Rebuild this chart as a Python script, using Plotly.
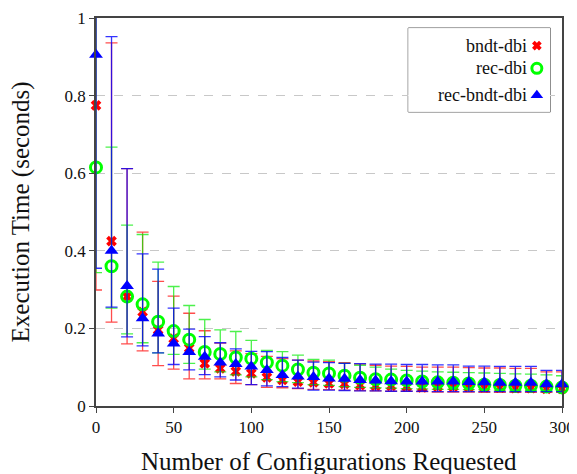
import plotly.graph_objects as go

x_vals = list(range(0, 301, 10))

bndt_mean = [0.775, 0.425, 0.282, 0.243, 0.196, 0.174, 0.149, 0.110, 0.097, 0.089,
             0.084, 0.074, 0.067, 0.063, 0.061, 0.058, 0.057, 0.054, 0.052, 0.052,
             0.050, 0.048, 0.050, 0.050, 0.049, 0.048, 0.047, 0.046, 0.046, 0.044, 0.044]
bndt_upper = [1.25, 0.936, 0.612, 0.448, 0.321, 0.283, 0.239, 0.194, 0.162, 0.142,
              0.135, 0.128, 0.122, 0.118, 0.116, 0.114, 0.112, 0.108, 0.105, 0.103,
              0.102, 0.100, 0.100, 0.100, 0.099, 0.098, 0.098, 0.097, 0.097, 0.088, 0.088]
bndt_lower = [0.299, 0.216, 0.160, 0.142, 0.104, 0.095, 0.070, 0.070, 0.070, 0.058,
              0.055, 0.048, 0.047, 0.045, 0.043, 0.042, 0.041, 0.040, 0.039, 0.038,
              0.038, 0.037, 0.036, 0.036, 0.036, 0.035, 0.035, 0.035, 0.035, 0.035, 0.035]

rec_mean = [0.615, 0.360, 0.282, 0.262, 0.217, 0.193, 0.171, 0.139, 0.134, 0.125,
            0.122, 0.112, 0.104, 0.094, 0.086, 0.084, 0.078, 0.073, 0.069, 0.068,
            0.066, 0.063, 0.061, 0.060, 0.058, 0.055, 0.054, 0.052, 0.052, 0.050, 0.048]
rec_upper = [1.05, 0.667, 0.466, 0.442, 0.371, 0.308, 0.259, 0.223, 0.196, 0.192,
             0.169, 0.143, 0.140, 0.131, 0.120, 0.118, 0.110, 0.105, 0.100, 0.095,
             0.092, 0.090, 0.088, 0.087, 0.086, 0.085, 0.084, 0.083, 0.082, 0.080, 0.078]
rec_lower = [0.344, 0.252, 0.186, 0.163, 0.137, 0.133, 0.110, 0.095, 0.088, 0.080,
             0.075, 0.068, 0.063, 0.060, 0.055, 0.053, 0.050, 0.048, 0.047, 0.046,
             0.045, 0.044, 0.043, 0.043, 0.042, 0.042, 0.041, 0.041, 0.040, 0.040, 0.040]

recb_mean = [0.905, 0.400, 0.309, 0.226, 0.187, 0.161, 0.139, 0.127, 0.112, 0.108,
             0.102, 0.093, 0.080, 0.076, 0.075, 0.071, 0.070, 0.067, 0.066, 0.064,
             0.063, 0.063, 0.063, 0.063, 0.062, 0.061, 0.060, 0.060, 0.060, 0.056, 0.056]
recb_upper = [1.30, 0.952, 0.612, 0.392, 0.353, 0.252, 0.198, 0.179, 0.163, 0.147,
              0.141, 0.140, 0.125, 0.118, 0.113, 0.112, 0.110, 0.109, 0.108, 0.108,
              0.107, 0.107, 0.106, 0.106, 0.103, 0.103, 0.102, 0.102, 0.102, 0.092, 0.092]
recb_lower = [0.355, 0.255, 0.178, 0.155, 0.137, 0.107, 0.093, 0.081, 0.075, 0.067,
              0.055, 0.052, 0.050, 0.046, 0.041, 0.041, 0.040, 0.039, 0.039, 0.038,
              0.038, 0.038, 0.037, 0.037, 0.037, 0.037, 0.037, 0.037, 0.037, 0.037, 0.037]

series_names = ["bndt-dbi", "rec-dbi", "rec-bndt-dbi"]
x_ticks = [0, 50, 100, 150, 200, 250, 300]
y_ticks = [0, 0.2, 0.4, 0.6, 0.8, 1]
x_title = "Number of Configurations Requested"
y_title = "Execution Time (seconds)"

FONT = "'Liberation Serif', 'DejaVu Serif', serif"

series = [
    dict(name=series_names[0], mean=bndt_mean, up=bndt_upper, lo=bndt_lower,
         ecolor="rgba(255,0,0,0.7)",
         marker=dict(symbol="x-thin", size=8, color="red",
                     line=dict(color="red", width=3.8))),
    dict(name=series_names[1], mean=rec_mean, up=rec_upper, lo=rec_lower,
         ecolor="rgba(0,235,0,0.7)",
         marker=dict(symbol="circle-open", size=11, color="rgb(0,255,0)",
                     line=dict(color="rgb(0,255,0)", width=3))),
    dict(name=series_names[2], mean=recb_mean, up=recb_upper, lo=recb_lower,
         ecolor="rgba(0,0,255,0.8)",
         marker=dict(symbol="triangle-up", size=12, color="rgb(0,0,255)",
                     line=dict(color="rgb(0,0,255)", width=0))),
]

fig = go.Figure()
for s in series:
    plus = [u - m for u, m in zip(s["up"], s["mean"])]
    minus = [m - l for m, l in zip(s["mean"], s["lo"])]
    fig.add_trace(go.Scatter(
        x=x_vals, y=s["mean"], mode="markers", showlegend=False,
        marker=dict(size=1, opacity=0),
        error_y=dict(type="data", symmetric=False, array=plus, arrayminus=minus,
                     color=s["ecolor"], thickness=1.3, width=6),
        cliponaxis=True, hoverinfo="skip"))
    fig.add_trace(go.Scatter(
        x=x_vals, y=s["mean"], mode="markers", name=s["name"], showlegend=False,
        marker=s["marker"], cliponaxis=False))

# custom legend (marker on the right, text right-aligned)
leg_y = [0.79, 0.52, 0.20]
for s, ly in zip(series, leg_y):
    m = dict(s["marker"])
    m = {**m, "size": m["size"] - 1}
    fig.add_trace(go.Scatter(
        x=[0.905], y=[ly], mode="markers", xaxis="x2", yaxis="y2",
        marker=m, showlegend=False, cliponaxis=False, hoverinfo="skip"))
    fig.add_annotation(x=0.85, y=ly, xref="x2", yref="y2", text=s["name"],
                       showarrow=False, xanchor="right", yanchor="middle",
                       font=dict(family=FONT, size=18, color="#111"))

fig.add_shape(type="rect", xref="paper", yref="paper",
              x0=0.670, x1=0.975, y0=0.758, y1=0.974,
              line=dict(color="#333", width=1), fillcolor="white", layer="below")

# axis titles
fig.add_annotation(x=0.5, y=-0.144, xref="paper", yref="paper", text=x_title,
                   showarrow=False, xanchor="center", yanchor="middle",
                   font=dict(family=FONT, size=25, color="#111"))
fig.add_annotation(x=-0.16, y=0.5, xref="paper", yref="paper", text=y_title,
                   showarrow=False, xanchor="center", yanchor="middle", textangle=-90,
                   font=dict(family=FONT, size=25, color="#111"))

fig.update_layout(
    width=569, height=466,
    margin=dict(l=88, r=15, t=10, b=68, autoexpand=False),
    paper_bgcolor="white", plot_bgcolor="white",
    font=dict(family=FONT, size=16, color="#111"),
    xaxis=dict(range=[0, 300], tickvals=x_ticks, showgrid=False, zeroline=False,
               showline=True, mirror=True, linecolor="#444", linewidth=1.5,
               ticks="outside", ticklen=5, tickcolor="#444", automargin=False,
               ticklabeloverflow="allow",
               tickfont=dict(family=FONT, size=17)),
    yaxis=dict(range=[0, 1], tickvals=y_ticks, showgrid=True,
               gridcolor="#c8c8c8", griddash="dash", gridwidth=1, zeroline=False,
               showline=True, mirror=True, linecolor="#444", linewidth=1.5,
               ticks="outside", ticklen=5, tickcolor="#444", automargin=False,
               ticklabeloverflow="allow",
               tickfont=dict(family=FONT, size=17)),
    xaxis2=dict(domain=[0.670, 0.975], range=[0, 1], visible=False, anchor="y2"),
    yaxis2=dict(domain=[0.758, 0.974], range=[0, 1], visible=False, anchor="x2"),
)

fig.write_html("out.html")
